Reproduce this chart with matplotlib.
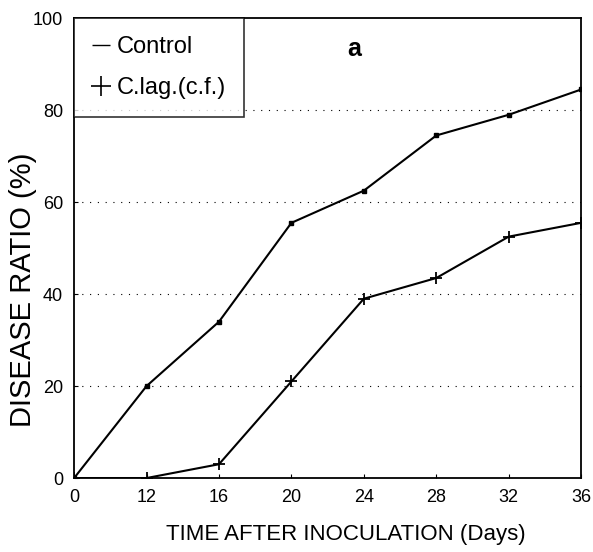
import numpy as np
import matplotlib
matplotlib.use('Agg')
import matplotlib.pyplot as plt
from matplotlib.lines import Line2D

plt.rcParams['font.family'] = ['Liberation Sans', 'DejaVu Sans']

# days after inoculation (drawn as equally spaced categories)
days = ['0', '12', '16', '20', '24', '28', '32', '36']
control = [0, 20, 34, 55.5, 62.5, 74.5, 79, 84.5]
c_lag = [0, 0, 3, 21, 39, 43.5, 52.5, 55.5]
y_ticks = [0, 20, 40, 60, 80, 100]

x = np.arange(len(days))

fig = plt.figure(figsize=(5.93, 5.52), dpi=100)
ax = fig.add_axes([0.125, 0.134, 0.855, 0.833])

# dotted reference lines
for yv in y_ticks[1:-1]:
    ax.axhline(yv, color='black', linestyle=(0, (1, 6)), linewidth=0.8, zorder=1)

ax.plot(x, control, color='black', linewidth=1.5, marker='s', markersize=3, zorder=3)
ax.plot(x, c_lag, color='black', linewidth=1.5, marker='+', markersize=9,
        markeredgewidth=1.3, zorder=3)

ax.set_xlim(0, len(days) - 1)
ax.set_ylim(0, 100)
ax.set_xticks(x)
ax.set_xticklabels(days)
ax.set_yticks(y_ticks)
ax.tick_params(direction='in', length=3, labelsize=13, pad=8)
for s in ax.spines.values():
    s.set_linewidth(1.3)

ax.set_xlabel('TIME AFTER INOCULATION (Days)', fontsize=16, va='center')
ax.xaxis.set_label_coords(0.535, -0.122)
ax.set_ylabel('DISEASE RATIO (%)', fontsize=21, va='center')
ax.yaxis.set_label_coords(-0.10, 0.41)

ax.text(3.86, 93.3, 'a', fontsize=18, fontweight='bold', ha='center', va='center')

handles = [Line2D([], [], color='black', marker='_', markersize=13, linestyle='None'),
           Line2D([], [], color='black', marker='+', markersize=14, linestyle='None',
                  markeredgewidth=1.2)]
leg = ax.legend(handles, ['Control', 'C.lag.(c.f.)'], loc='upper left', fontsize=17,
                frameon=True, fancybox=False, edgecolor='black', borderaxespad=0,
                handlelength=0.8, handletextpad=0.25, labelspacing=0.8,
                borderpad=0.75)
leg.get_frame().set_linewidth(1.2)

fig.savefig('out.png', dpi=100)
